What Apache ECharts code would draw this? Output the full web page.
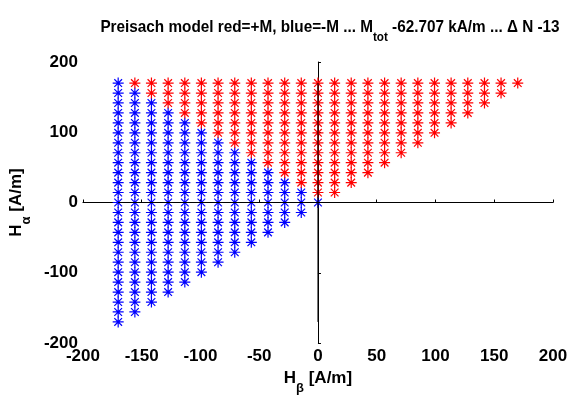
<!DOCTYPE html>
<html>
<head>
<meta charset="utf-8">
<script src="https://cdn.jsdelivr.net/npm/echarts@6/dist/echarts.min.js"></script>
<style>
  html, body { margin: 0; padding: 0; background: #fff; }
  #chart { width: 571px; height: 401px; }
</style>
</head>
<body>
<div id="chart"></div>
<script>
// Preisach plane discretisation: switching fields (A/m), used for both H_beta and H_alpha
const fieldLevels = [-170, -155.8, -141.7, -127.5, -113.3, -99.2, -85, -70.8, -56.7, -42.5,
  -28.3, -14.2, 0, 14.2, 28.3, 42.5, 56.7, 70.8, 85, 99.2, 113.3, 127.5, 141.7, 155.8, 170];
// For each H_beta column: how many hysterons, counted upward from the diagonal, are in the -M state
const minusCount = [25, 23, 21, 19, 17, 15, 13, 11, 9, 7, 5, 3, 1,
  0, 0, 0, 0, 0, 0, 0, 0, 0, 0, 0, 0];
// Axis tick setup
const xTickStep = 50;
const yTickStep = 100;
const axisRange = [-200, 200];

const plusPts = [];
const minusPts = [];
fieldLevels.forEach((hb, i) => {
  for (let j = i; j < fieldLevels.length; j++) {
    const pt = [hb, fieldLevels[j]];
    if (j - i < minusCount[i]) minusPts.push(pt); else plusPts.push(pt);
  }
});
const lo = fieldLevels[0], hi = fieldLevels[fieldLevels.length - 1];

const STAR = 'path://M0,10L20,10M10,0L10,20M3,3L17,17M17,3L3,17';
const FONT = '"Liberation Sans", Arial, sans-serif';

const chart = echarts.init(document.getElementById('chart'), null, { renderer: 'canvas' });
const labelStyle = { fontFamily: FONT, fontWeight: 'bold', fontSize: 17, color: '#000' };
const subRich = {
  n: { fontFamily: FONT, fontWeight: 'bold', fontSize: 17, color: '#000', lineHeight: 22, verticalAlign: 'top' },
  s: { fontFamily: FONT, fontWeight: 'bold', fontSize: 13, color: '#000', lineHeight: 13, padding: [12, 0, 0, 0], verticalAlign: 'top' }
};

chart.setOption({
  animation: false,
  graphic: [{
    type: 'text',
    x: 330, y: 19,
    scaleX: 0.9,
    style: {
      text: '{n|Preisach model red=+M, blue=-M ... M}{s|tot}{n| -62.707 kA/m ... \u0394 N -13}',
      rich: subRich,
      align: 'center',
      verticalAlign: 'top'
    }
  }],
  grid: { left: 82, right: 18, top: 62, bottom: 58, containLabel: false },
  xAxis: {
    type: 'value', min: axisRange[0], max: axisRange[1], interval: xTickStep,
    axisLine: { show: true, lineStyle: { color: '#000', width: 1 } },
    axisTick: { show: true, inside: true, length: 3, lineStyle: { color: '#000' } },
    axisLabel: Object.assign({ margin: 5 }, labelStyle),
    splitLine: { show: false },
    name: '{n|H}{s|\u03b2}{n| [A/m]}',
    nameLocation: 'middle', nameGap: 26,
    nameTextStyle: { rich: subRich }
  },
  yAxis: {
    type: 'value', min: axisRange[0], max: axisRange[1], interval: yTickStep,
    axisLine: { show: true, lineStyle: { color: '#000', width: 1 } },
    axisTick: { show: true, inside: true, length: 3, lineStyle: { color: '#000' } },
    axisLabel: Object.assign({ margin: 5 }, labelStyle),
    splitLine: { show: false },
    name: '{n|H}{s|\u03b1}{n| [A/m]}',
    nameLocation: 'middle', nameGap: 44, nameRotate: 90,
    nameTextStyle: { rich: subRich }
  },
  series: [
    {
      type: 'scatter', data: minusPts, symbol: STAR, symbolSize: 11,
      itemStyle: { color: '#0000ff', borderColor: '#0000ff', borderWidth: 1.2, opacity: 1 },
      z: 2
    },
    {
      type: 'scatter', data: plusPts, symbol: STAR, symbolSize: 11,
      itemStyle: { color: '#ff0000', borderColor: '#ff0000', borderWidth: 1.2, opacity: 1 },
      z: 3
    },
    {
      type: 'line', data: [[lo, 0], [hi, 0]], symbol: 'none',
      lineStyle: { color: '#000', width: 1 }, z: 5
    },
    {
      type: 'line', data: [[0, lo], [0, hi]], symbol: 'none',
      lineStyle: { color: '#000', width: 1 }, z: 5
    }
  ]
});
</script>
</body>
</html>
